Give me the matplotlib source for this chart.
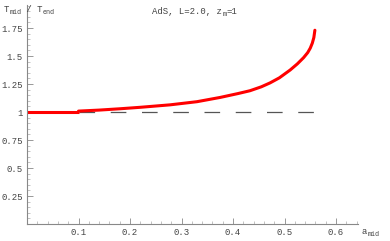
import matplotlib
matplotlib.use("Agg")
import matplotlib.pyplot as plt
from matplotlib.ticker import MultipleLocator

plt.rcParams['font.family'] = ['Liberation Mono', 'DejaVu Sans Mono']
plt.rcParams['mathtext.fontset'] = 'dejavusans'

# data
flat_a = [0.0, 0.1]
flat_T = [1.0, 1.0]
curve_a = [0.1, 0.14, 0.181, 0.22, 0.278, 0.33, 0.375, 0.41, 0.433, 0.455, 0.472,
           0.49, 0.511, 0.525, 0.537, 0.545, 0.550, 0.554, 0.557, 0.559]
curve_T = [1.008, 1.017, 1.029, 1.042, 1.064, 1.092, 1.13, 1.165, 1.19, 1.225, 1.26,
           1.305, 1.375, 1.43, 1.485, 1.53, 1.57, 1.615, 1.665, 1.73]
ref_a = [0.1, 0.559]
ref_T = [1.0, 1.0]

title_parts = ("AdS, L=2.0, z", "m", "=1")
x_ticks = [0.1, 0.2, 0.3, 0.4, 0.5, 0.6]
y_ticks = [0.25, 0.5, 0.75, 1.0, 1.25, 1.5, 1.75]
y_ticklabels = ["0.25", "0.5", "0.75", "1", "1.25", "1.5", "1.75"]

W, H = 390, 241
fig = plt.figure(figsize=(W / 100, H / 100), dpi=100)
ax = fig.add_axes([27 / W, 17 / H, 331 / W, 219 / H])
ax.set_xlim(0, 331 / 515)
ax.set_ylim(0, 219 / 112)

txt = '#444444'
ax.plot(ref_a, ref_T, color='#555555', lw=0.9, dashes=(12.5, 12.5), solid_capstyle='butt')
ax.plot(flat_a, flat_T, color='#ff0000', lw=2.2, solid_capstyle='butt')
ax.plot(curve_a, curve_T, color='#ff0000', lw=2.2, solid_capstyle='round',
        solid_joinstyle='round')

for s in ['top', 'right']:
    ax.spines[s].set_visible(False)
for s in ['left', 'bottom']:
    ax.spines[s].set_color('#888888')
    ax.spines[s].set_linewidth(0.8)

ax.set_xticks(x_ticks)
ax.set_xticklabels([f"{v:.1f}" for v in x_ticks])
ax.set_yticks(y_ticks)
ax.set_yticklabels(y_ticklabels)
ax.xaxis.set_minor_locator(MultipleLocator(0.02))
ax.yaxis.set_minor_locator(MultipleLocator(0.05))
ax.tick_params(which='major', direction='in', length=4, width=0.6, color='#888888',
               labelsize=6.5, labelcolor=txt, pad=3)
ax.tick_params(which='minor', direction='in', length=2, width=0.5, color='#aaaaaa')


def sub_text(x_px, y_px, parts, ha='left'):
    """Draw text with a subscript as separate pieces (monospace base font)."""
    fs, sfs = 6.5, 4.8
    cw, scw = fs * 0.6 / 72 * 100, sfs * 0.6 / 72 * 100
    total = sum(len(s) * (scw if sub else cw) for s, sub in parts)
    x = x_px - (total / 2 if ha == 'center' else 0)
    for s, sub in parts:
        fig.text(x / W, 1 - (y_px + (2.5 if sub else 0)) / H, s, ha='left',
                 va='center', fontsize=sfs if sub else fs, color=txt)
        x += len(s) * (scw if sub else cw)


sub_text(195, 12, [(title_parts[0], False), (title_parts[1], True), (title_parts[2], False)],
         ha='center')
sub_text(4, 10, [("T", False), ("mid", True), (" / T", False), ("end", True)])
sub_text(362, 232, [("a", False), ("mid", True)])

fig.savefig("out.png", dpi=100)
